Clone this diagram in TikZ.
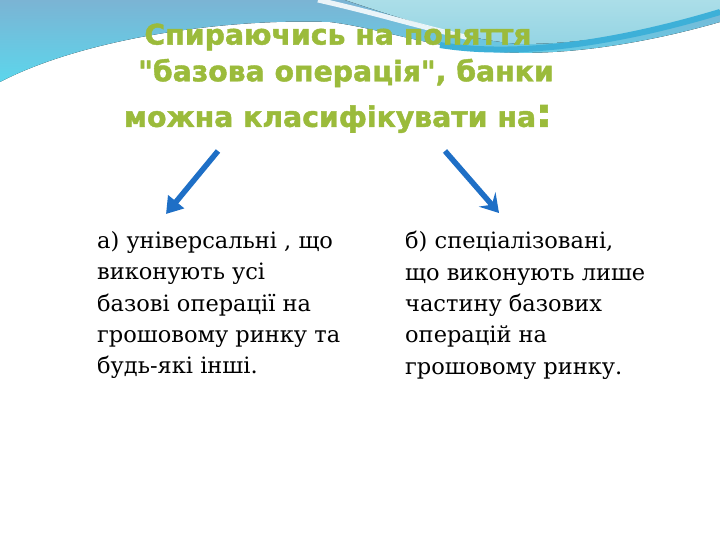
\documentclass[tikz,border=0pt]{standalone}
\usepackage{fontspec}
\setmainfont{DejaVu Serif}
\newfontfamily\titlefont[BoldFeatures={FakeBold=1.5}]{DejaVu Sans}
\usetikzlibrary{arrows.meta,positioning}

\definecolor{titlegreen}{HTML}{9BBB3B}
\definecolor{arrowblue}{HTML}{1E6FC6}
\definecolor{waveblue}{HTML}{7BB4D4}
\definecolor{wavecyan}{HTML}{5CD6EC}
\definecolor{wavelight}{HTML}{A4DBE6}
\definecolor{wavedark}{HTML}{3DB0D8}

\tikzset{
	titletext/.style={font=\titlefont\bfseries\fontsize{28.3}{32}\selectfont,
		text=titlegreen, inner sep=0pt},
	bodytext/.style={font=\fontsize{22.5}{31.4}\selectfont, align=left,
		anchor=north west, inner sep=0pt, text=black},
	bigarrow/.style={arrowblue, line width=5.5pt},
}

\begin{document}
\begin{tikzpicture}[x=1pt,y=-1pt]
	\useasboundingbox (0,0) rectangle (720,540);
	\fill[white] (0,0) rectangle (720,540);

	% wave at the top
	% ---------------
	\fill[top color=waveblue, bottom color=wavecyan]
		(0,0) -- (720,0) -- (720,22)
		.. controls (640,45) and (560,56) .. (500,52)
		.. controls (430,48) and (380,28) .. (330,22)
		.. controls (220,18) and (80,40) .. (0,82) -- cycle;
	\fill[top color=wavelight!92!white, bottom color=wavelight!85!wavedark]
		(345,0) .. controls (420,25) and (470,40) .. (520,44)
		.. controls (600,44) and (670,26) .. (720,10) -- (720,0) -- cycle;
	\draw[white, line width=5pt, opacity=.85]
		(318,0) .. controls (380,14) and (420,27) .. (470,38);
	\draw[wavedark, line width=6pt]
		(440,45) .. controls (520,58) and (620,42) .. (720,12);

	% title
	% -----
	\node[titletext] (title1) at (338,37) {Спираючись на поняття};
	\node[titletext] (title2) at (346,73) {"базова операція", банки};
	\node[titletext] (title3) at (338,119)
		{можна класифікувати на{\fontsize{40}{40}\selectfont:}};

	% the two groups
	\node[bodytext] (univ) at (97,231)
		{а) універсальні , що\\
		 виконують усі\\
		 базові операції на\\
		 грошовому ринку та\\
		 будь-які інші.};
	\node[bodytext] (spec) at (405,231)
		{б) спеціалізовані,\\
		 що виконують лише\\
		 частину базових\\
		 операцій на\\
		 грошовому ринку.};

	% arrows
	\coordinate (la) at (218,151);
	\coordinate (lb) at (166,214);
	\coordinate (ra) at (445,151);
	\coordinate (rb) at (499,213);
	\draw[bigarrow, -{Triangle[width=20pt,length=16pt]}] (la) -- (lb);
	\draw[bigarrow, -{Stealth[width=22pt,length=18pt,inset=7pt]}] (ra) -- (rb);
\end{tikzpicture}
\end{document}
